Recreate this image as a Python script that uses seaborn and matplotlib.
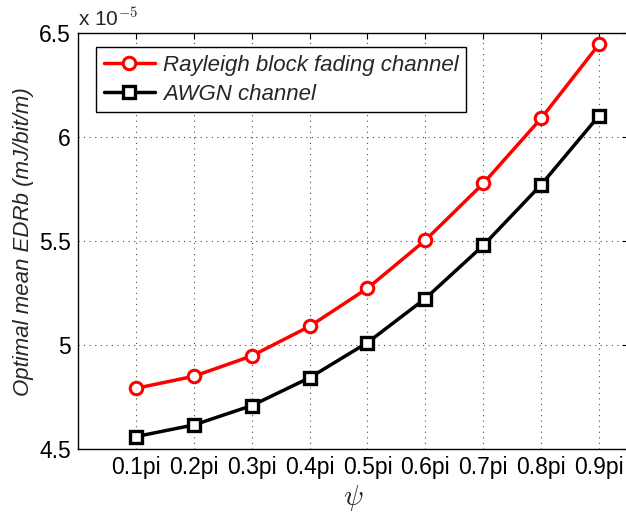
import numpy as np
import pandas as pd
import matplotlib
matplotlib.use("Agg")
import matplotlib.pyplot as plt
import seaborn as sns

# data (values in units of 1e-5 mJ/bit/m)
psi = [0.1, 0.2, 0.3, 0.4, 0.5, 0.6, 0.7, 0.8, 0.9]
psi_labels = ["0.1pi", "0.2pi", "0.3pi", "0.4pi", "0.5pi", "0.6pi", "0.7pi", "0.8pi", "0.9pi"]
rayleigh = [4.793, 4.851, 4.949, 5.091, 5.274, 5.505, 5.778, 6.091, 6.447]
awgn = [4.561, 4.617, 4.710, 4.844, 5.013, 5.225, 5.480, 5.772, 6.104]

sns.set_style("white")
plt.rcParams['font.family'] = ['Liberation Sans', 'DejaVu Sans']
plt.rcParams['mathtext.fontset'] = 'cm'

fig = plt.figure(figsize=(6.26, 5.16), dpi=100)
# axes run right up to the figure's right edge (cropped figure)
ax = fig.add_axes([78 / 626, (516 - 449.3) / 516, (628 - 78) / 626, 416 / 516])

sns.lineplot(x=psi, y=rayleigh, ax=ax, color="red", lw=2.5, marker="o", markersize=9,
             markerfacecolor="white", markeredgecolor="red", markeredgewidth=2.2,
             label="Rayleigh block fading channel")
sns.lineplot(x=psi, y=awgn, ax=ax, color="black", lw=2.5, marker="s", markersize=8,
             markerfacecolor="white", markeredgecolor="black", markeredgewidth=2.4,
             label="AWGN channel")

ax.set_xlim(0, 0.95)
ax.set_ylim(4.5, 6.5)
ax.set_xticks(psi)
ax.set_xticklabels(psi_labels)
ax.set_yticks([4.5, 5, 5.5, 6, 6.5])
ax.set_yticklabels(["4.5", "5", "5.5", "6", "6.5"])
ax.tick_params(direction="in", length=4, width=0.8, top=True, right=True,
               labelsize=16.5, colors="black", pad=5)
ax.grid(True, linestyle=(0, (1, 4)), color="0.3", lw=0.8)
for s in ax.spines.values():
    s.set_color("black")
    s.set_linewidth(1.0)
ax.spines["right"].set_visible(False)

ax.set_xlabel(r"$\psi$", fontsize=21, labelpad=3)
ax.set_ylabel("Optimal mean EDRb (mJ/bit/m)", fontsize=16, fontstyle="italic", labelpad=4)
ax.text(0, 1.008, r"x 10$^{-5}$", transform=ax.transAxes, fontsize=15,
        ha="left", va="bottom")

leg = ax.legend(loc="upper left", bbox_to_anchor=(0.0327, 0.967), borderaxespad=0,
                fancybox=False, edgecolor="black", framealpha=1, handlelength=2.3,
                borderpad=0.35, labelspacing=0.35, handletextpad=0.35,
                prop={"style": "italic", "size": 16})
leg.get_frame().set_linewidth(1.0)

fig.savefig("out.png", dpi=100)
